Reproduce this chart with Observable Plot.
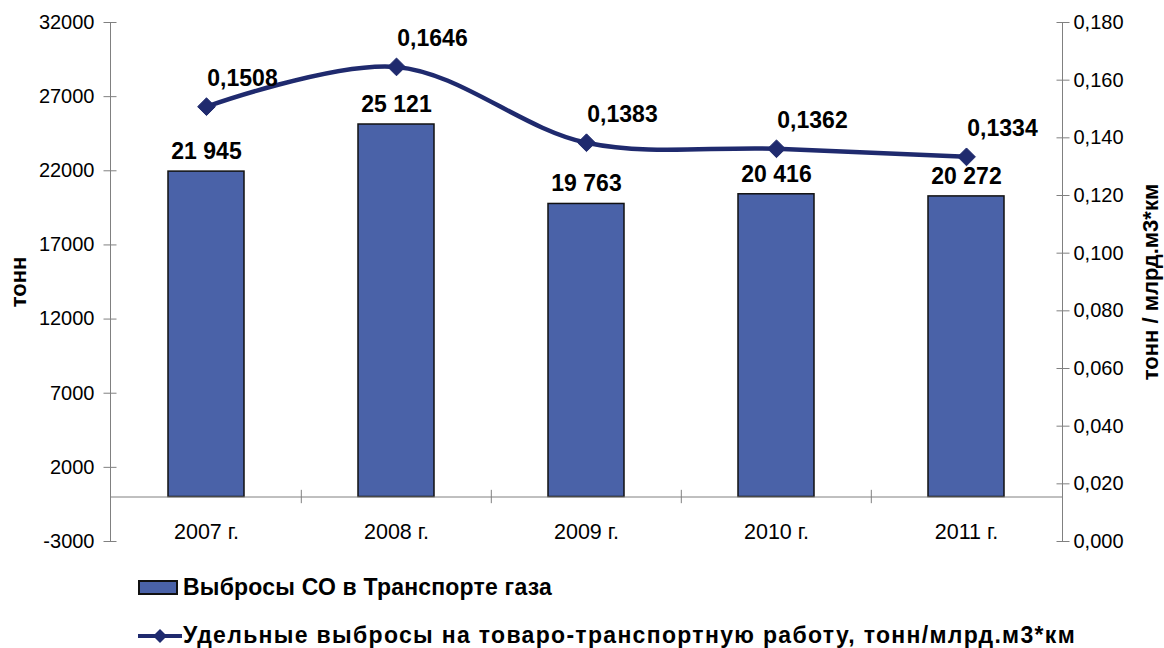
<!DOCTYPE html>
<html>
<head>
<meta charset="utf-8">
<script src="https://cdn.jsdelivr.net/npm/d3@7"></script>
<script src="https://cdn.jsdelivr.net/npm/@observablehq/plot@0.6"></script>
<style>
  body { margin: 0; background: #fff; font-family: "Liberation Sans", Arial, sans-serif; }
  #wrap { position: relative; width: 1164px; height: 648px; }
  .leg { position: absolute; left: 138px; display: flex; align-items: center; font-weight: bold; font-size: 23px; color: #000; white-space: nowrap; }
  .sw { width: 40px; height: 15px; background: #4a62a8; border: 2px solid #111; box-sizing: border-box; margin-right: 5px; }
</style>
</head>
<body>
<div id="wrap">
  <div id="chart"></div>
  <div class="leg" style="top:574px"><span class="sw"></span><span id="l1"></span></div>
  <div class="leg" style="top:622px"><svg width="44" height="20" style="margin-right:1px"><line x1="0" y1="10" x2="44" y2="10" stroke="#1f2a6e" stroke-width="4"/><path d="M22,3 L29,10 L22,17 L15,10 Z" fill="#1f2a6e"/></svg><span id="l2"></span></div>
</div>
<script>
// ---- data ----
const years = ["2007 г.", "2008 г.", "2009 г.", "2010 г.", "2011 г."];
const emissions = [21945, 25121, 19763, 20416, 20272];           // тонн
const specific = [0.1508, 0.1646, 0.1383, 0.1362, 0.1334];       // тонн / млрд.м3*км
const leftTicks = [-3000, 2000, 7000, 12000, 17000, 22000, 27000, 32000];
const rightTicks = [0, 0.02, 0.04, 0.06, 0.08, 0.10, 0.12, 0.14, 0.16, 0.18];
const seriesNames = ["Выбросы СО в Транспорте газа", "Удельные выбросы на товаро-транспортную работу, тонн/млрд.м3*км"];
const axisTitles = ["тонн", "тонн / млрд.м3*км"];

// ---- helpers ----
const leftMin = -3000, leftMax = 32000, rightMin = 0, rightMax = 0.18;
const toLeft = v => leftMin + (v - rightMin) / (rightMax - rightMin) * (leftMax - leftMin);
const fromLeft = v => rightMin + (v - leftMin) / (leftMax - leftMin) * (rightMax - rightMin);
const fmtThousands = v => d3.format(",")(v).replace(/,/g, " ");
const fmtComma = (v, p) => d3.format("." + p + "f")(v).replace(".", ",");

const data = years.map((y, i) => ({year: y, em: emissions[i], sp: specific[i]}));

const W = 1164, H = 560, mL = 110, mR = 102, mT = 22, mB = 19;
const step = (W - mL - mR) / years.length;
const barColor = "#4a62a8", lineColor = "#1f2a6e", axisColor = "#808080";
const font = "Liberation Sans, Arial, sans-serif";
const tickFs = 20, catFs = 21.5, valFs = 23, titleFs = 22;

const chart = Plot.plot({
  width: W, height: H,
  marginLeft: mL, marginRight: mR, marginTop: mT, marginBottom: mB,
  style: {fontFamily: font, fontSize: "20px", color: "#000", background: "#fff"},
  x: {domain: years, paddingInner: 0.6, paddingOuter: 0.3, axis: null},
  y: {domain: [leftMin, leftMax], axis: null},
  marks: [
    // axis lines
    Plot.frame({anchor: "left", stroke: axisColor}),
    Plot.frame({anchor: "right", stroke: axisColor}),
    // left axis ticks (crossing) + labels
    Plot.axisY(leftTicks, {anchor: "left", tickSize: 13, dx: 6.5, stroke: axisColor, tickFormat: () => "", label: null}),
    Plot.axisY(leftTicks, {anchor: "left", tickSize: 0, tickPadding: 16, tickFormat: d => String(d), fontSize: tickFs, label: null}),
    // right axis
    Plot.axisY(rightTicks.map(toLeft), {anchor: "right", tickSize: 13, dx: -6.5, stroke: axisColor, tickFormat: () => "", label: null}),
    Plot.axisY(rightTicks.map(toLeft), {anchor: "right", tickSize: 0, tickPadding: 11, tickFormat: d => fmtComma(fromLeft(d), 3), fontSize: tickFs, label: null}),
    // axis titles
    Plot.text([axisTitles[0]], {frameAnchor: "left", textAnchor: "middle", rotate: -90, dx: -92, fontWeight: "bold", fontSize: titleFs}),
    Plot.text([axisTitles[1]], {frameAnchor: "right", textAnchor: "middle", rotate: -90, dx: 88, fontWeight: "bold", fontSize: titleFs}),
    // bars
    Plot.barY(data, {x: "year", y: "em", fill: barColor, stroke: "#111", strokeWidth: 1.5}),
    // zero line and category separators
    Plot.ruleY([0], {stroke: axisColor}),
    Plot.ruleX(years.slice(1), {x: d => d, dx: -step / 2, y1: -450, y2: 450, stroke: axisColor}),
    // category labels
    Plot.text(years, {x: d => d, y: 0, dy: 35, fontSize: catFs}),
    // bar value labels
    Plot.text(data, {x: "year", y: "em", dy: -20, text: d => fmtThousands(d.em), fontWeight: "bold", fontSize: valFs}),
    // line
    Plot.line(data, {x: "year", y: d => toLeft(d.sp), curve: "catmull-rom", stroke: lineColor, strokeWidth: 4.5}),
    Plot.dot(data, {x: "year", y: d => toLeft(d.sp), symbol: "diamond2", r: 8, fill: lineColor, stroke: lineColor, strokeWidth: 1}),
    Plot.text(data, {x: "year", y: d => toLeft(d.sp), dx: 36, dy: -28, text: d => fmtComma(d.sp, 4), fontWeight: "bold", fontSize: valFs})
  ]
});
document.getElementById("chart").appendChild(chart);

// legend texts, fitted to the reference widths
const legTargets = [369, 893];
["l1", "l2"].forEach((id, i) => {
  const el = document.getElementById(id);
  el.textContent = seriesNames[i];
  const w = el.getBoundingClientRect().width;
  const n = seriesNames[i].length;
  el.style.letterSpacing = ((legTargets[i] - w) / n) + "px";
});
</script>
</body>
</html>
